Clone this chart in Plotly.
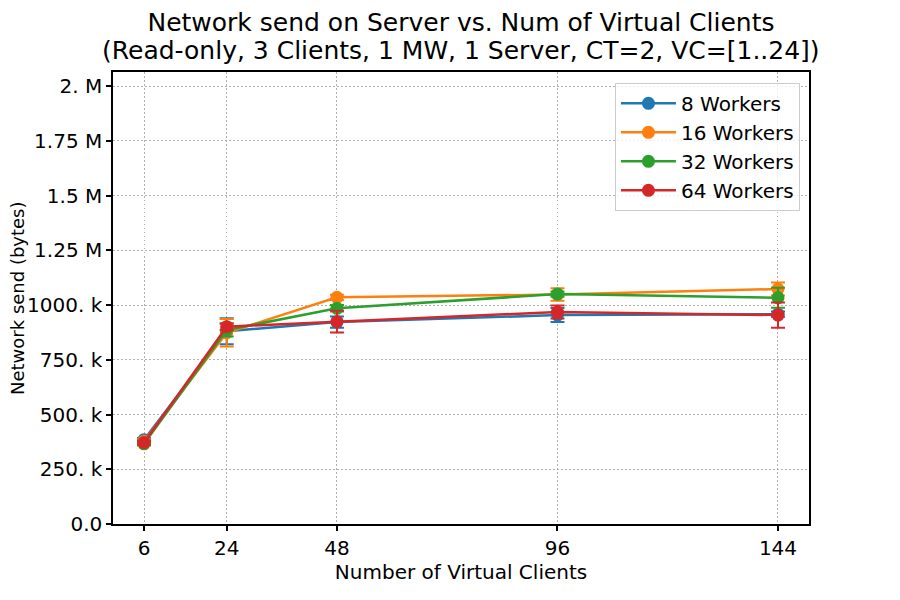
import plotly.graph_objects as go

vc = [6, 24, 48, 96, 144]
series_names = ["8 Workers", "16 Workers", "32 Workers", "64 Workers"]
colors = ["#1f77b4", "#ff7f0e", "#2ca02c", "#d62728"]

w8 = [385000, 880000, 922000, 954000, 958000]
w16 = [378000, 873000, 1035000, 1048000, 1073000]
w32 = [366000, 886000, 985000, 1050000, 1033000]
w64 = [372000, 901000, 924000, 968000, 954000]

e8 = [8000, 59000, 26000, 32000, 12000]
e16 = [8000, 63000, 12000, 29000, 30000]
e32 = [8000, 30000, 15000, 12000, 46000]
e64 = [8000, 15000, 50000, 30000, 58000]

ytick_vals = [0, 250000, 500000, 750000, 1000000, 1250000, 1500000, 1750000, 2000000]
ytick_text = ["0.0", "250. k", "500. k", "750. k", "1000. k", "1.25 M", "1.5 M", "1.75 M", "2. M"]

title_line1 = "Network send on Server vs. Num of Virtual Clients"
title_line2 = "(Read-only, 3 Clients, 1 MW, 1 Server, CT=2, VC=[1..24])"

fig = go.Figure()
for name, col, ys, es in zip(series_names, colors, [w8, w16, w32, w64], [e8, e16, e32, e64]):
    fig.add_trace(go.Scatter(
        x=vc, y=ys, name=name, mode="lines+markers",
        line=dict(color=col, width=2.5),
        marker=dict(color=col, size=13),
        error_y=dict(type="data", array=es, visible=True, color=col, thickness=2, width=7),
    ))

axis_common = dict(
    showline=True, linecolor="black", linewidth=1.5, mirror=True,
    ticks="outside", ticklen=5, tickwidth=1.5, tickcolor="black",
    showgrid=True, gridcolor="#b0b0b0", griddash="1.5px,2.5px", gridwidth=1.3,
    zeroline=False, automargin=False,
    tickfont=dict(size=20, color="black"),
)

fig.update_layout(
    width=892, height=592,
    paper_bgcolor="white", plot_bgcolor="white",
    font=dict(family="DejaVu Sans", color="black"),
    margin=dict(l=105, r=91, t=64, b=76),
    title=dict(
        text=title_line1,
        x=0.5, xref="paper", xanchor="center",
        y=1 - 14 / 592, yref="container", yanchor="middle",
        font=dict(size=25, color="black"),
    ),
    xaxis=dict(
        range=[-0.75, 150.75], tickvals=vc, ticktext=[str(v) for v in vc],
        title=dict(text="Number of Virtual Clients", font=dict(size=20), standoff=6),
        **axis_common,
    ),
    yaxis=dict(
        range=[0, 2064000], tickvals=ytick_vals, ticktext=ytick_text,
        **axis_common,
    ),
    legend=dict(
        x=0.987, y=0.976, xanchor="right", yanchor="top",
        bordercolor="#cccccc", borderwidth=1, bgcolor="rgba(255,255,255,0.8)",
        font=dict(size=20), tracegroupgap=0, itemwidth=55,
    ),
    annotations=[
        dict(
            text=title_line2,
            xref="paper", yref="paper", x=0.5, y=1,
            xanchor="center", yanchor="middle", yshift=22,
            showarrow=False, font=dict(size=25, color="black"),
        ),
        dict(
            text="Network send (bytes)", textangle=-90,
            xref="paper", yref="paper", x=0, y=0.5,
            xanchor="center", yanchor="middle", xshift=-96,
            showarrow=False, font=dict(size=18, color="black"),
        ),
    ],
    showlegend=True,
)

fig.write_html("out.html")
